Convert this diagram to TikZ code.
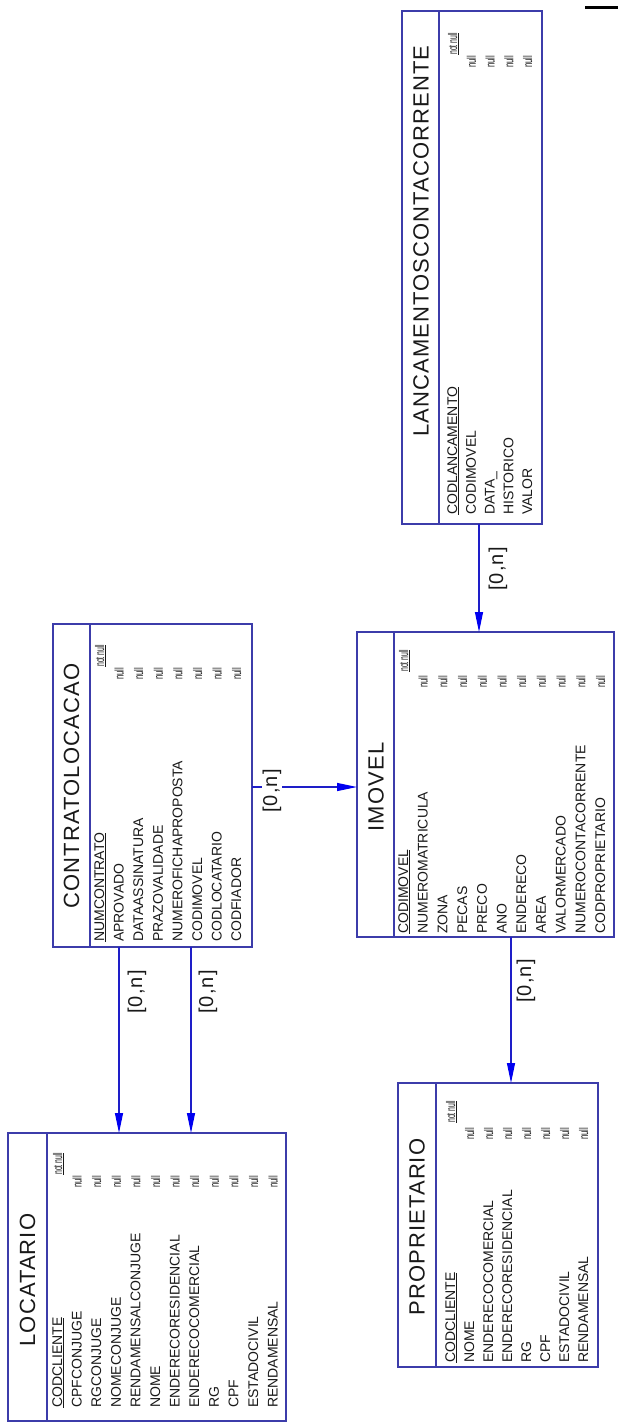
\documentclass[tikz,border=0pt]{standalone}
\usepackage{fontspec}
\setmainfont{Liberation Sans}
\newfontfamily\titlefont[LetterSpace=5]{Liberation Sans}
\newfontfamily\cardfont[LetterSpace=6]{Liberation Sans}
\usetikzlibrary{arrows.meta}
\definecolor{boxc}{RGB}{60,60,170}
\definecolor{linkc}{RGB}{30,30,200}
\definecolor{tipc}{RGB}{0,0,240}
\definecolor{txtc}{RGB}{25,25,25}
\begin{document}
\begin{tikzpicture}[x=1pt,y=-1pt,
  entity/.style={draw=boxc, line width=1.2pt, rectangle, inner sep=0pt, outer sep=0pt},
  divider/.style={draw=boxc, line width=1.2pt},
  ttl/.style={rotate=90, inner sep=0pt, text=txtc, font=\titlefont\fontsize{22}{24}\selectfont},
  attr/.style={rotate=90, anchor=base west, inner sep=0pt, text=txtc, font=\fontsize{14}{16}\selectfont},
  nul/.style={rotate=90, anchor=base west, inner sep=0pt, text=txtc, font=\fontsize{12.5}{14}\selectfont},
  link/.style={draw=linkc, line width=1.2pt, -{Triangle[length=20pt,width=8pt,color=tipc]}},
  card/.style={rotate=90, inner sep=1pt, text=txtc, font=\cardfont\fontsize{20}{22}\selectfont}]

% page
\fill[white] (0,0) rectangle (618,1422);
\useasboundingbox (0,0) rectangle (618,1422);

% short black rule in the upper right corner
\draw[line width=3pt, black] (585,7.5) -- (618,7.5);

% ---------- entity boxes ----------
\node[entity, minimum width=278pt, minimum height=288pt] (loc) at (147,1277) {};
\node[entity, minimum width=199pt, minimum height=323pt] (con) at (152.5,785.5) {};
\node[entity, minimum width=257pt, minimum height=305pt] (imo) at (485.5,784.5) {};
\node[entity, minimum width=200pt, minimum height=284pt] (pro) at (498,1225) {};
\node[entity, minimum width=140pt, minimum height=513pt] (lan) at (472,267.5) {};

% title strips
\draw[divider] ([xshift=39pt]loc.north west) -- ([xshift=39pt]loc.south west);
\draw[divider] ([xshift=37pt]con.north west) -- ([xshift=37pt]con.south west);
\draw[divider] ([xshift=37pt]imo.north west) -- ([xshift=37pt]imo.south west);
\draw[divider] ([xshift=38pt]pro.north west) -- ([xshift=38pt]pro.south west);
\draw[divider] ([xshift=37pt]lan.north west) -- ([xshift=37pt]lan.south west);

% titles
\node[ttl] (loc-t) at (27.5,1280) {LOCATARIO};
\node[ttl] (con-t) at (71.5,786) {CONTRATOLOCACAO};
\node[ttl] (imo-t) at (376,787) {IMOVEL};
\node[ttl] (pro-t) at (417,1227) {PROPRIETARIO};
\node[ttl] (lan-t) at (421,241) {LANCAMENTOSCONTACORRENTE};

% ---------- LOCATARIO ----------
\node[attr] (loc-a0) at (62,1408) {\underline{CODCLIENTE}};
\foreach \t [count=\i] in {CPFCONJUGE,RGCONJUGE,NOMECONJUGE,RENDAMENSALCONJUGE,NOME,
  ENDERECORESIDENCIAL,ENDERECOCOMERCIAL,RG,CPF,ESTADOCIVIL,RENDAMENSAL}
  \node[attr] (loc-a\i) at ({62+19.6*\i},1408) {\t};
\node[nul] (loc-nn) at (62,1175) {\underline{\scalebox{0.55}[1]{not null}}};
\foreach \i in {1,...,11}
  \node[nul] (loc-n\i) at ({62+19.6*\i},1188) {\scalebox{0.62}[1]{null}};

% ---------- CONTRATOLOCACAO ----------
\node[attr] (con-a0) at (104,942) {\underline{NUMCONTRATO}};
\foreach \t [count=\i] in {APROVADO,DATAASSINATURA,PRAZOVALIDADE,NUMEROFICHAPROPOSTA,
  CODIMOVEL,CODLOCATARIO,CODFIADOR}
  \node[attr] (con-a\i) at ({104+19.6*\i},942) {\t};
\node[nul] (con-nn) at (104,667) {\underline{\scalebox{0.55}[1]{not null}}};
\foreach \i in {1,...,7}
  \node[nul] (con-n\i) at ({104+19.6*\i},680) {\scalebox{0.62}[1]{null}};

% ---------- IMOVEL ----------
\node[attr] (imo-a0) at (408,934) {\underline{CODIMOVEL}};
\foreach \t [count=\i] in {NUMEROMATRICULA,ZONA,PECAS,PRECO,ANO,ENDERECO,AREA,
  VALORMERCADO,NUMEROCONTACORRENTE,CODPROPRIETARIO}
  \node[attr] (imo-a\i) at ({408+19.7*\i},934) {\t};
\node[nul] (imo-nn) at (408,672) {\underline{\scalebox{0.55}[1]{not null}}};
\foreach \i in {1,...,10}
  \node[nul] (imo-n\i) at ({408+19.7*\i},688) {\scalebox{0.62}[1]{null}};

% ---------- PROPRIETARIO ----------
\node[attr] (pro-a0) at (455,1363) {\underline{CODCLIENTE}};
\foreach \t [count=\i] in {NOME,ENDERECOCOMERCIAL,ENDERECORESIDENCIAL,RG,CPF,
  ESTADOCIVIL,RENDAMENSAL}
  \node[attr] (pro-a\i) at ({455+19*\i},1363) {\t};
\node[nul] (pro-nn) at (455,1123) {\underline{\scalebox{0.55}[1]{not null}}};
\foreach \i in {1,...,7}
  \node[nul] (pro-n\i) at ({455+19*\i},1140) {\scalebox{0.62}[1]{null}};

% ---------- LANCAMENTOSCONTACORRENTE ----------
\node[attr] (lan-a0) at (457,515) {\underline{CODLANCAMENTO}};
\foreach \t [count=\i] in {CODIMOVEL,DATA\_,HISTORICO,VALOR}
  \node[attr] (lan-a\i) at ({457+18.8*\i},515) {\t};
\node[nul] (lan-nn) at (457,55) {\underline{\scalebox{0.55}[1]{not null}}};
\foreach \i in {1,...,4}
  \node[nul] (lan-n\i) at ({457+18.8*\i},68) {\scalebox{0.62}[1]{null}};

% ---------- relationships ----------
\coordinate (xa) at (119,0);
\coordinate (xb) at (191,0);
\coordinate (xc) at (479,0);
\coordinate (xd) at (511,0);
\coordinate (yh) at (0,787);

\draw[link] (con.south -| xa) -- (loc.north -| xa);
\draw[link] (con.south -| xb) -- (loc.north -| xb);
\draw[link] (con.east |- yh) -- (imo.west |- yh);
\draw[link] (lan.south -| xc) -- (imo.north -| xc);
\draw[link] (imo.south -| xd) -- (pro.north -| xd);

\node[card] (c1) at (137,992) {[0,n]};
\node[card] (c2) at (208,992) {[0,n]};
\node[card, fill=white] (c3) at (272,791) {[0,n]};
\node[card] (c4) at (498,569) {[0,n]};
\node[card] (c5) at (526,981) {[0,n]};
\end{tikzpicture}
\end{document}
